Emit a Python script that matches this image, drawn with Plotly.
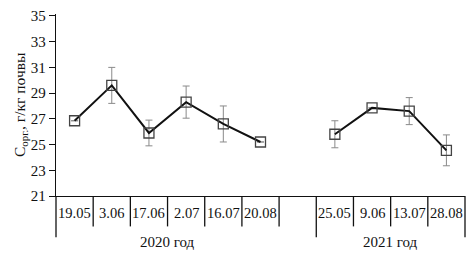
import plotly.graph_objects as go

# categories (index 6 is an empty gap between years)
dates = ["19.05", "3.06", "17.06", "2.07", "16.07", "20.08", "", "25.05", "9.06", "13.07", "28.08"]
c_org = [26.85, 29.6, 25.9, 28.3, 26.6, 25.2, None, 25.8, 27.85, 27.6, 24.55]
err = [None, 1.4, 1.0, 1.25, 1.4, None, None, 1.05, None, 1.05, 1.2]
years = ["2020 год", "2021 год"]
year_span = [(0, 5), (7, 10)]
y_ticks = [21, 23, 25, 27, 29, 31, 33, 35]

FONT = "Liberation Serif"
n = len(dates)
xs = list(range(n))

fig = go.Figure()
fig.add_trace(go.Scatter(
    x=xs, y=c_org, mode="lines+markers", connectgaps=False,
    line=dict(color="#111111", width=2),
    marker=dict(symbol="square-open", size=10, color="#444444", line=dict(width=1.3, color="#444444")),
    error_y=dict(type="data", array=[e if e is not None else float("nan") for e in err],
                 visible=True, color="#8a8a8a", thickness=1, width=3.5),
    showlegend=False,
))

def px(v):
    return (v + 0.5) / n

shapes = []
# extended y axis line below plot
shapes.append(dict(type="line", xref="paper", yref="paper", x0=0, x1=0, y0=0, y1=-0.226,
                   line=dict(color="#111111", width=1.3)))
# category separators
for i in range(n):
    b = i + 0.5  # right boundary of category i
    if i == n - 1 or i == 6:
        y1 = -0.226
    else:
        y1 = -0.167
    shapes.append(dict(type="line", xref="paper", yref="paper", x0=px(b), x1=px(b), y0=0, y1=y1,
                       line=dict(color="#111111", width=1.3)))

annotations = []
for i, d in enumerate(dates):
    if d:
        annotations.append(dict(x=i, y=0, xref="x", yref="paper", text=d, showarrow=False,
                                yshift=-17, yanchor="middle", font=dict(family=FONT, size=14.5, color="#111111")))
for yr, (a, b) in zip(years, year_span):
    annotations.append(dict(x=(a + b) / 2, y=0, xref="x", yref="paper", text=yr, showarrow=False,
                            yshift=-46, yanchor="middle", font=dict(family=FONT, size=15, color="#111111")))
annotations.append(dict(x=0, y=0.5, xref="paper", yref="paper", xshift=-36, textangle=-90,
                        text="С<sub>орг.</sub>, г/кг почвы", showarrow=False,
                        xanchor="center", yanchor="middle", font=dict(family=FONT, size=15.5, color="#111111")))

fig.update_layout(
    width=473, height=254,
    margin=dict(l=56, r=8, t=10, b=58),
    paper_bgcolor="white", plot_bgcolor="white",
    xaxis=dict(range=[-0.5, n - 0.5], showgrid=False, zeroline=False, showticklabels=False,
               ticks="", showline=True, linecolor="#111111", linewidth=1.3),
    yaxis=dict(range=[21, 35.15], tickvals=y_ticks, showgrid=False, zeroline=False,
               ticks="outside", ticklen=6, tickcolor="#111111", tickwidth=1.3,
               showline=True, linecolor="#111111", linewidth=1.3,
               tickfont=dict(family=FONT, size=15, color="#111111")),
    shapes=shapes, annotations=annotations,
)
fig.write_html("out.html", config={"displayModeBar": False},
               post_script="document.body.style.margin='0';document.body.style.overflow='hidden';")
